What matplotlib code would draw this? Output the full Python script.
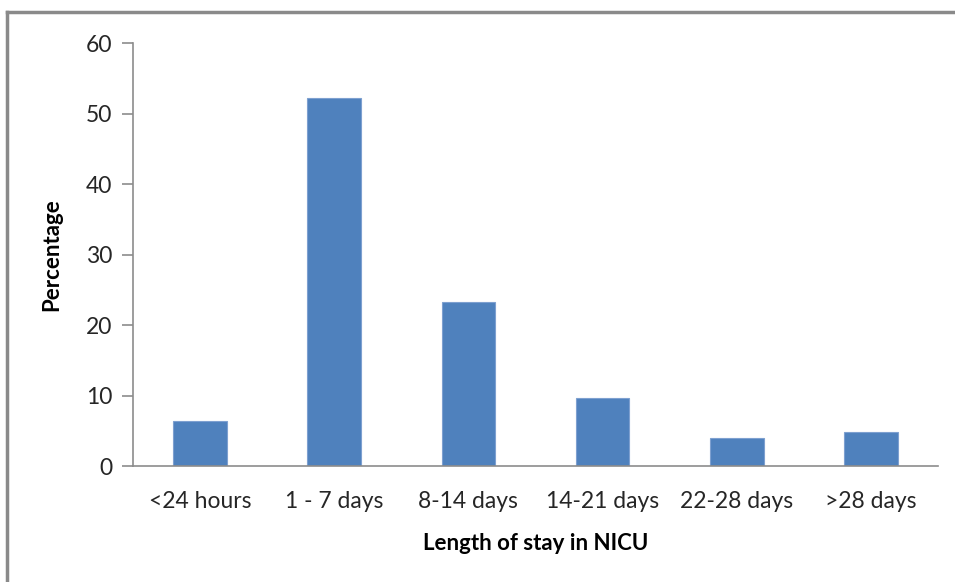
import matplotlib.pyplot as plt
from matplotlib.lines import Line2D

# length of stay in NICU (% of babies)
categories = ["<24 hours", "1 - 7 days", "8-14 days", "14-21 days", "22-28 days", ">28 days"]
percentages = [6.4, 52.2, 23.3, 9.7, 4.0, 4.8]
y_ticks = [0, 10, 20, 30, 40, 50, 60]

plt.rcParams["font.family"] = ["Lato", "DejaVu Sans"]

fig = plt.figure(figsize=(9.55, 5.82), dpi=100)
ax = fig.add_axes([0.1393, 0.1993, 0.8429, 0.7268])

x = range(len(categories))
ax.bar(x, percentages, width=0.4, color="#4F81BD", edgecolor="#7EA0D0", linewidth=0.8, zorder=2)

ax.set_xlim(-0.5, len(categories) - 0.5)
ax.set_ylim(0, 60)
ax.set_yticks(y_ticks)
ax.set_xticks(list(x))
ax.set_xticklabels(categories)

for side in ["top", "right"]:
    ax.spines[side].set_visible(False)
for side in ["left", "bottom"]:
    ax.spines[side].set_color("#8C8C8C")
    ax.spines[side].set_linewidth(1.2)

ax.tick_params(axis="y", direction="out", length=8, width=1.2, color="#8C8C8C",
               labelsize=16.5, labelcolor="#262626", pad=7)
ax.tick_params(axis="x", length=0, labelsize=16.5, labelcolor="#262626", pad=18)

ax.set_xlabel("Length of stay in NICU", fontsize=16, fontweight="bold", labelpad=15)
ax.set_ylabel("Percentage", fontsize=16, fontweight="bold", labelpad=17)

# chart-area frame: only the top and left edges fall inside the image
frame = dict(transform=fig.transFigure, color="#8A8A8A", linewidth=2.5)
fig.lines.append(Line2D([7 / 955, 1.0], [1 - 12 / 582, 1 - 12 / 582], **frame))
fig.lines.append(Line2D([7 / 955, 7 / 955], [0.0, 1 - 12 / 582], **frame))

fig.savefig("out.png", dpi=100)
